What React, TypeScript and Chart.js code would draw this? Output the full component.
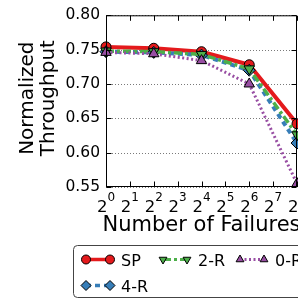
import React, { useEffect, useRef } from "react";
import { Chart, registerables } from "chart.js";

Chart.register(...registerables);

// ---- data ----
const failures = [1, 4, 16, 64, 256];
const spValues = [0.754, 0.752, 0.747, 0.728, 0.642];
const r4Values = [0.747, 0.746, 0.742, 0.72, 0.614];
const r2Values = [0.748, 0.747, 0.743, 0.722, 0.626];
const r0Values = [0.746, 0.744, 0.734, 0.7, 0.555];
const seriesLabels = ["SP", "4-R", "2-R", "0-R"];
const yTicks = [0.55, 0.6, 0.65, 0.7, 0.75, 0.8];
const xTicks = [1, 2, 4, 8, 16, 32, 64, 128, 256];
const xTickBase = "2";
const xTickExps = ["0", "1", "2", "3", "4", "5", "6", "7", "8"];
const xTitle = "Number of Failures";
const yTitleLines = ["Normalized", "Throughput"];

// ---- styles ----
const FONT = '"DejaVu Sans", sans-serif';
const W = 400;
const H = 299;

type SeriesStyle = {
  color: string;
  width: number;
  dash: number[];
  marker: "circle" | "rectRot" | "triangle";
  rotation: number;
  radius: number;
  legendRadius: number;
  legendWidth: number;
};

const styles: SeriesStyle[] = [
  { color: "#e41a1c", width: 4, dash: [], marker: "circle", rotation: 0, radius: 5, legendRadius: 4.5, legendWidth: 3.5 },
  { color: "#377eb8", width: 4, dash: [5, 4], marker: "rectRot", rotation: 0, radius: 6, legendRadius: 5, legendWidth: 3.5 },
  { color: "#4daf4a", width: 3.5, dash: [8, 3, 3, 3], marker: "triangle", rotation: 180, radius: 6, legendRadius: 4.5, legendWidth: 3 },
  { color: "#984ea3", width: 3, dash: [2, 2.5], marker: "triangle", rotation: 0, radius: 6, legendRadius: 4.5, legendWidth: 3 },
];

const seriesValues = [spValues, r4Values, r2Values, r0Values];

function drawMarker(ctx: CanvasRenderingContext2D, kind: string, x: number, y: number, r: number, rot: number) {
  ctx.beginPath();
  if (kind === "circle") {
    ctx.arc(x, y, r, 0, Math.PI * 2);
  } else if (kind === "rectRot") {
    ctx.moveTo(x - r, y);
    ctx.lineTo(x, y - r);
    ctx.lineTo(x + r, y);
    ctx.lineTo(x, y + r);
    ctx.closePath();
  } else {
    let rad = (rot * Math.PI) / 180;
    for (let i = 0; i < 3; i++) {
      const px = x + Math.sin(rad) * r;
      const py = y - Math.cos(rad) * r;
      if (i === 0) ctx.moveTo(px, py);
      else ctx.lineTo(px, py);
      rad += (2 * Math.PI) / 3;
    }
    ctx.closePath();
  }
  ctx.fill();
  ctx.stroke();
}

const customPlugin = {
  id: "customFigure",
  beforeDatasetsDraw(chart: any) {
    const { ctx, chartArea: a, scales } = chart;
    const ys = scales.y;
    ctx.save();
    ctx.strokeStyle = "#7a7a7a";
    ctx.lineWidth = 1;
    ctx.setLineDash([1, 2]);
    for (const t of yTicks) {
      const py = Math.round(ys.getPixelForValue(t)) + 0.5;
      ctx.beginPath();
      ctx.moveTo(a.left, py);
      ctx.lineTo(a.right, py);
      ctx.stroke();
    }
    ctx.restore();
  },
  afterDatasetsDraw(chart: any) {
    const { ctx, chartArea: a, scales } = chart;
    const xs = scales.x;
    const ys = scales.y;
    ctx.save();
    // frame
    ctx.setLineDash([]);
    ctx.strokeStyle = "#000";
    ctx.lineWidth = 1;
    const L = a.left + 0.5, R = a.right - 0.5, T = a.top + 0.5, B = a.bottom - 0.5;
    ctx.strokeRect(L, T, R - L, B - T);
    // inside tick marks
    ctx.beginPath();
    for (const v of xTicks) {
      const px = Math.round(xs.getPixelForValue(v)) + 0.5;
      ctx.moveTo(px, B);
      ctx.lineTo(px, B - 5);
      ctx.moveTo(px, T);
      ctx.lineTo(px, T + 5);
    }
    for (const v of yTicks) {
      const py = Math.round(ys.getPixelForValue(v)) + 0.5;
      ctx.moveTo(L, py);
      ctx.lineTo(L + 5, py);
      ctx.moveTo(R, py);
      ctx.lineTo(R - 5, py);
    }
    ctx.stroke();

    // x tick labels 2^k
    ctx.fillStyle = "#000";
    ctx.textBaseline = "alphabetic";
    ctx.textAlign = "left";
    const baseFont = `16.5px ${FONT}`;
    const expFont = `12px ${FONT}`;
    xTicks.forEach((v, i) => {
      const px = xs.getPixelForValue(v);
      ctx.font = baseFont;
      const wb = ctx.measureText(xTickBase).width;
      ctx.font = expFont;
      const we = ctx.measureText(xTickExps[i]).width;
      const x0 = px - (wb + we) / 2;
      ctx.font = baseFont;
      ctx.fillText(xTickBase, x0, 211.5);
      ctx.font = expFont;
      ctx.fillText(xTickExps[i], x0 + wb, 201);
    });

    // x title
    ctx.font = `21px ${FONT}`;
    ctx.textAlign = "center";
    ctx.fillText(xTitle, (a.left + a.right) / 2, 231);

    // y title (rotated)
    ctx.font = `20px ${FONT}`;
    const yBaselines = [33, 54];
    yTitleLines.forEach((line, i) => {
      ctx.save();
      ctx.translate(yBaselines[i], (a.top + a.bottom) / 2 - 3);
      ctx.rotate(-Math.PI / 2);
      ctx.textAlign = "center";
      ctx.fillText(line, 0, 0);
      ctx.restore();
    });

    // legend
    const boxL = 73.5, boxT = 245.5, boxB = 297.5, boxR = W + 20;
    ctx.beginPath();
    ctx.roundRect(boxL, boxT, boxR - boxL, boxB - boxT, 4);
    ctx.fillStyle = "#fff";
    ctx.fill();
    ctx.strokeStyle = "#444";
    ctx.lineWidth = 1;
    ctx.stroke();

    const ncol = 3;
    const n = seriesLabels.length;
    const nrows = Math.ceil(n / ncol);
    const colStarts = [86, 163, 240];
    const rowY = [259.5, 285.5];
    const handleLen = 24;
    let idx = 0;
    for (let c = 0; c < ncol; c++) {
      const count = c < n % ncol || n % ncol === 0 ? nrows : nrows - 1;
      for (let r = 0; r < count; r++) {
        if (idx >= n) break;
        const s = styles[idx];
        const x1 = colStarts[c];
        const x2 = x1 + handleLen;
        const y = rowY[r];
        ctx.save();
        ctx.strokeStyle = s.color;
        ctx.lineWidth = s.legendWidth;
        ctx.setLineDash(s.dash);
        ctx.beginPath();
        ctx.moveTo(x1, y);
        ctx.lineTo(x2, y);
        ctx.stroke();
        ctx.setLineDash([]);
        ctx.fillStyle = s.color;
        ctx.strokeStyle = "#000";
        ctx.lineWidth = 1;
        drawMarker(ctx, s.marker, x1, y, s.legendRadius, s.rotation);
        drawMarker(ctx, s.marker, x2, y, s.legendRadius, s.rotation);
        ctx.restore();
        ctx.fillStyle = "#000";
        ctx.font = `16px ${FONT}`;
        ctx.textAlign = "left";
        ctx.textBaseline = "alphabetic";
        ctx.fillText(seriesLabels[idx], x2 + 11, y + 6);
        idx++;
      }
    }
    ctx.restore();
  },
};

export default function App() {
  const canvasRef = useRef<HTMLCanvasElement | null>(null);

  useEffect(() => {
    const canvas = canvasRef.current;
    if (!canvas) return;
    const orders = [4, 3, 2, 1];
    const datasets = seriesLabels.map((label, i) => {
      const s = styles[i];
      return {
        label,
        data: failures.map((f, j) => ({ x: f, y: seriesValues[i][j] })),
        borderColor: s.color,
        backgroundColor: s.color,
        borderWidth: s.width,
        borderDash: s.dash,
        borderJoinStyle: "round" as const,
        pointStyle: s.marker,
        pointRotation: s.rotation,
        pointRadius: s.radius,
        pointBackgroundColor: s.color,
        pointBorderColor: "#000",
        pointBorderWidth: 1,
        tension: 0,
        fill: false,
        clip: false as any,
        order: orders[i],
      };
    });

    const chart = new Chart(canvas, {
      type: "line",
      data: { datasets: datasets as any },
      options: {
        responsive: false,
        animation: false,
        events: [],
        layout: { padding: { left: 0, right: W - 297, top: 13, bottom: 0 } },
        plugins: { legend: { display: false }, tooltip: { enabled: false } },
        scales: {
          x: {
            type: "logarithmic",
            min: 1,
            max: 256,
            afterBuildTicks: (s: any) => {
              s.ticks = xTicks.map((v) => ({ value: v }));
            },
            afterFit: (s: any) => {
              s.height = H - 187;
            },
            ticks: { display: false },
            grid: { display: false, drawTicks: false },
            border: { display: false },
          },
          y: {
            type: "linear",
            min: 0.55,
            max: 0.8,
            afterBuildTicks: (s: any) => {
              s.ticks = yTicks.map((v) => ({ value: v }));
            },
            afterFit: (s: any) => {
              s.width = 106;
            },
            ticks: {
              callback: (v: any) => Number(v).toFixed(2),
              font: { family: FONT, size: 15.5 },
              color: "#000",
              padding: 6,
            },
            grid: { display: false, drawTicks: false },
            border: { display: false },
          },
        },
      },
      plugins: [customPlugin],
    });
    return () => chart.destroy();
  }, []);

  return (
    <div
      style={{
        position: "absolute",
        left: 0,
        top: 0,
        width: 298,
        height: 299,
        overflow: "hidden",
        background: "#fff",
      }}
    >
      <canvas ref={canvasRef} width={W} height={H} style={{ width: W, height: H, display: "block" }} />
    </div>
  );
}
